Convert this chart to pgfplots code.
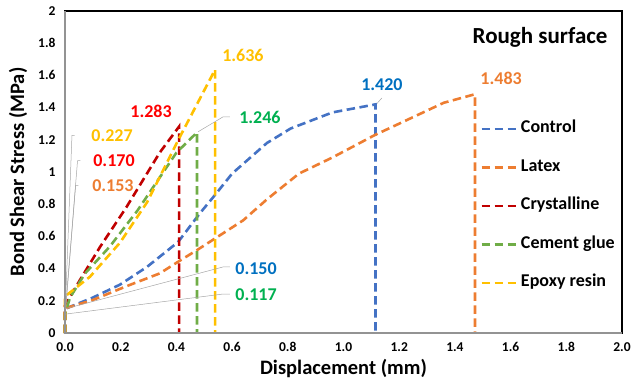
\documentclass[border=0pt]{standalone}
\usepackage{fontspec}
\setmainfont{Carlito}
\usepackage{pgfplots}
\pgfplotsset{compat=1.18}
\definecolor{cblue}{HTML}{4472C4}
\definecolor{corange}{HTML}{ED7D31}
\definecolor{cred}{HTML}{C00000}
\definecolor{cgreen}{HTML}{70AD47}
\definecolor{cyellow}{HTML}{FFC000}
\definecolor{lblue}{HTML}{0070C0}
\definecolor{lred}{HTML}{FF0000}
\definecolor{lgreen}{HTML}{00B050}
\definecolor{lorange}{HTML}{ED7D31}
\definecolor{lyellow}{HTML}{FFC000}
\begin{document}
\begin{tikzpicture}
\path[use as bounding box] (-65pt,-50pt) rectangle (567pt,333pt);
\begin{axis}[
  scale only axis, width=557pt, height=322pt,
  xmin=0, xmax=2, ymin=0, ymax=2,
  xtick={0,0.2,...,2.01}, ytick={0,0.2,...,2.01},
  major tick length=0pt,
  axis line style={black, line width=1.1pt},
  clip=false,
  /pgf/number format/assume math mode=true,
  tick label style={font=\fontsize{13.5}{14}\selectfont\bfseries},
  xticklabel style={/pgf/number format/.cd, fixed, fixed zerofill, precision=1},
  yticklabel style={/pgf/number format/.cd, fixed, precision=1},
  xticklabel shift=6pt, yticklabel shift=6pt,
  xlabel={Displacement (mm)}, ylabel={Bond Shear Stress (MPa)},
  label style={font=\fontsize{20.5}{22}\selectfont\bfseries},
  xlabel style={at={(rel axis cs:0.5,-0.109)}, anchor=center},
  ylabel style={at={(rel axis cs:-0.0844,0.5)}, anchor=center},
  legend style={draw=none, fill=none, font=\fontsize{18}{18}\selectfont\bfseries,
    at={(axis cs:1.48,0.79)}, anchor=west, row sep=20.5pt,
    nodes={inner sep=1pt, text height=12pt, text depth=4pt}},
  legend cell align=left,
  legend image code/.code={\draw[#1] (0pt,0pt) -- (37pt,0pt);},
  every axis plot/.append style={line width=2.6pt, dash pattern=on 8.5pt off 4.5pt},
]
\addplot[cblue] coordinates {(0,0) (0,0.150) (0.10,0.22) (0.197,0.30) (0.294,0.41) (0.406,0.565) (0.485,0.745) (0.54,0.86) (0.60,0.99) (0.725,1.18) (0.81,1.27) (0.96,1.37) (1.115,1.420) (1.115,0)};
\addlegendentry{Control}
\addplot[corange] coordinates {(0,0) (0,0.153) (0.10,0.205) (0.22,0.29) (0.34,0.37) (0.413,0.45) (0.474,0.515) (0.64,0.70) (0.725,0.83) (0.84,0.99) (0.96,1.09) (1.113,1.23) (1.36,1.43) (1.472,1.483) (1.472,0)};
\addlegendentry{Latex}
\addplot[cred] coordinates {(0,0) (0,0.170) (0.054,0.33) (0.126,0.535) (0.22,0.78) (0.34,1.12) (0.41,1.283) (0.41,0)};
\addlegendentry{Crystalline}
\addplot[cgreen] coordinates {(0,0) (0,0.117) (0.018,0.22) (0.072,0.37) (0.16,0.535) (0.26,0.76) (0.40,1.12) (0.474,1.246) (0.474,0)};
\addlegendentry{Cement glue}
\addplot[cyellow] coordinates {(0,0) (0,0.227) (0.09,0.35) (0.197,0.56) (0.294,0.81) (0.41,1.21) (0.539,1.636) (0.539,0)};
\addlegendentry{Epoxy resin}
% gray axis lines
\draw[gray!85, line width=1.8pt] (rel axis cs:0,1) -- (rel axis cs:0,0) -- (rel axis cs:1,0);
% leader lines
\begin{scope}[gray!70, line width=0.5pt]
\draw (axis cs:0.035,1.228) -- (axis cs:0.025,1.228) -- (axis cs:0.003,0.23);
\draw (axis cs:0.055,1.07) -- (axis cs:0.045,1.07) -- (axis cs:0.003,0.175);
\draw (axis cs:0.048,0.915) -- (axis cs:0.038,0.915) -- (axis cs:0.003,0.157);
\draw (axis cs:0.592,0.41) -- (axis cs:0.567,0.41) -- (axis cs:0.0,0.150);
\draw (axis cs:0.592,0.242) -- (axis cs:0.567,0.242) -- (axis cs:0.0,0.117);
\draw (axis cs:0.592,1.342) -- (axis cs:0.567,1.342) -- (axis cs:0.478,1.250);
\draw (axis cs:1.138,1.46) -- (axis cs:1.12,1.425);
\end{scope}
% data labels
\begin{scope}[font=\fontsize{18}{18}\selectfont\bfseries]
\node[text=lyellow] at (axis cs:0.639,1.727) {1.636};
\node[text=lred] at (axis cs:0.309,1.379) {1.283};
\node[text=lgreen] at (axis cs:0.700,1.342) {1.246};
\node[text=lblue] at (axis cs:1.138,1.540) {1.420};
\node[text=lorange] at (axis cs:1.566,1.584) {1.483};
\node[text=lyellow] at (axis cs:0.169,1.224) {0.227};
\node[text=lred] at (axis cs:0.176,1.068) {0.170};
\node[text=lorange] at (axis cs:0.172,0.913) {0.153};
\node[text=lblue] at (axis cs:0.686,0.398) {0.150};
\node[text=lgreen] at (axis cs:0.686,0.236) {0.117};
\end{scope}
\node[font=\fontsize{23}{24}\selectfont\bfseries] at (axis cs:1.706,1.839) {Rough surface};
\end{axis}
\end{tikzpicture}
\end{document}
